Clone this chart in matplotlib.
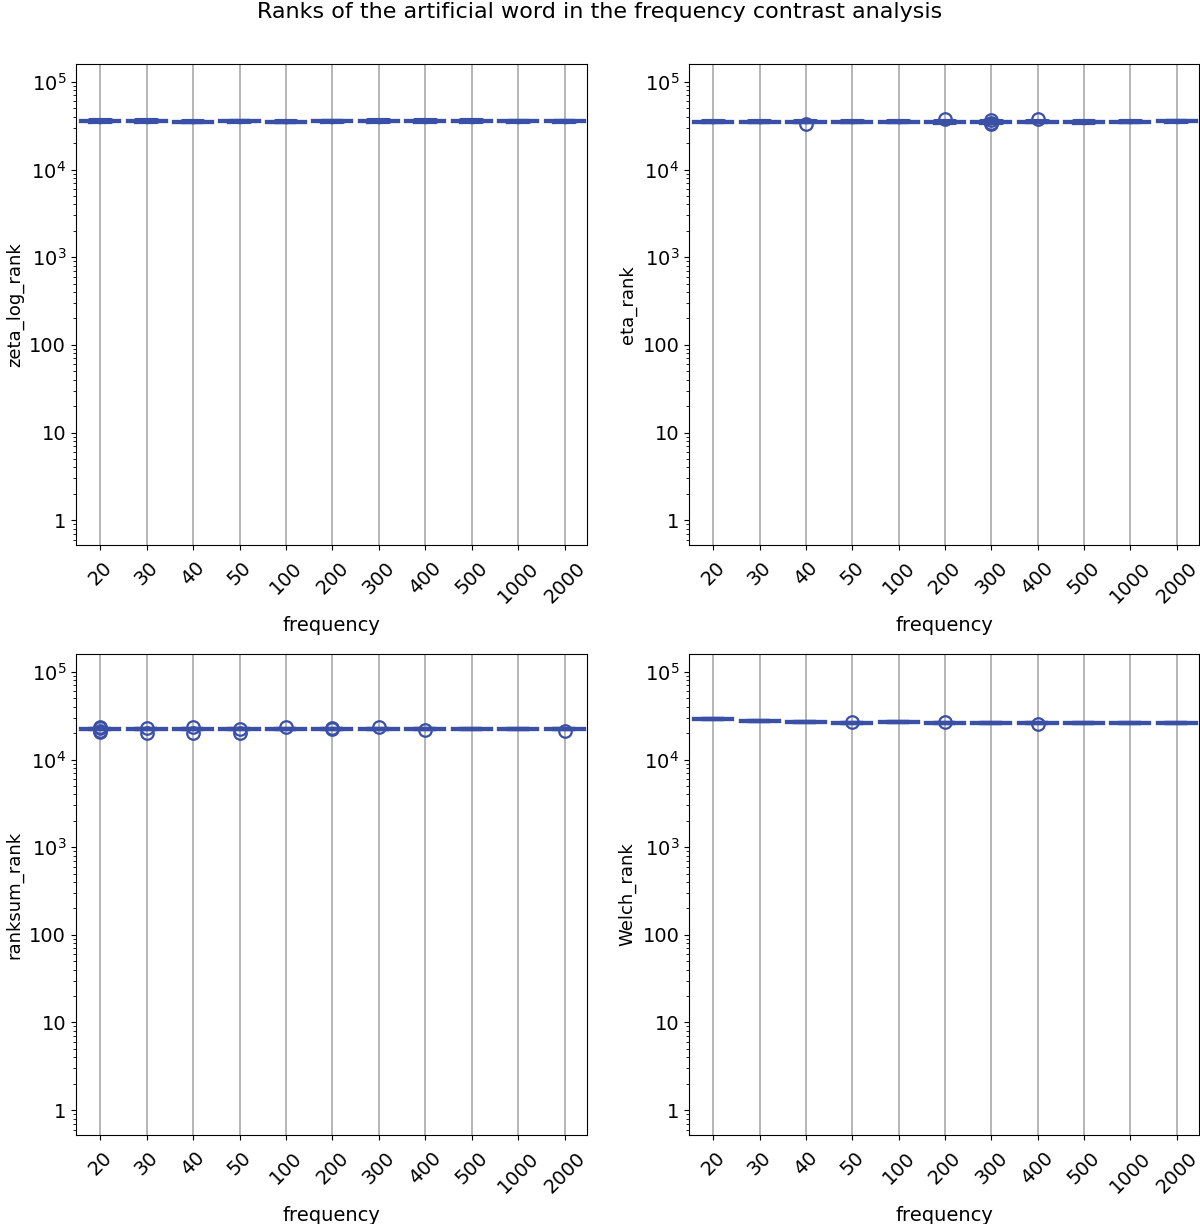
import numpy as np
import matplotlib
matplotlib.use('Agg')
import matplotlib.pyplot as plt

# frequency groups (x categories)
frequencies = ['20', '30', '40', '50', '100', '200', '300', '400', '500', '1000', '2000']

# medians of the rank of the artificial word
zeta_med = [35600, 35700, 35300, 35500, 35200, 35400, 35600, 35800, 35600, 35500, 35400]
eta_med = [35000, 35000, 35100, 35000, 35000, 34900, 34900, 35000, 34900, 35000, 35600]
ranksum_med = [22400, 22400, 22400, 22300, 22400, 22400, 22400, 22400, 22400, 22400, 22400]
welch_med = [28700, 27500, 26700, 26300, 26500, 26100, 26000, 26000, 26000, 26000, 26000]

# outliers per group
zeta_fliers = [[], [], [], [], [], [], [], [], [], [], []]
eta_fliers = [[], [], [33000], [], [], [37700], [33500, 34300, 36800], [37700], [], [], []]
ranksum_fliers = [[23600, 23000, 21200, 20600], [22900, 20200], [23800, 20200], [22500, 20200],
                  [23300], [23000, 22200], [23300], [21700], [], [], [21400]]
welch_fliers = [[], [], [], [26700], [], [26700], [], [25400], [], [], []]

# small spread of the box in the upper panels
zeta_spread = [0.02] * 11
eta_spread = [0.015] * 11
ranksum_spread = [0.0] * 11
welch_spread = [0.0] * 11

panels = [
    ('zeta_log_rank', zeta_med, zeta_spread, zeta_fliers),
    ('eta_rank', eta_med, eta_spread, eta_fliers),
    ('ranksum_rank', ranksum_med, ranksum_spread, ranksum_fliers),
    ('Welch_rank', welch_med, welch_spread, welch_fliers),
]

color = '#3a4fa6'
plt.rcParams['font.size'] = 14

fig = plt.figure(figsize=(12, 12.24), dpi=100)
fig.suptitle('Ranks of the artificial word in the frequency contrast analysis', fontsize=16, y=0.998)

rects = [
    [0.0633, 0.5547, 0.4259, 0.3930],
    [0.5742, 0.5547, 0.4250, 0.3930],
    [0.0633, 0.0727, 0.4259, 0.3930],
    [0.5742, 0.0727, 0.4250, 0.3930],
]

for rect, (label, med, spread, fliers) in zip(rects, panels):
    ax = fig.add_axes(rect)
    stats = []
    for m, s, f in zip(med, spread, fliers):
        stats.append({'med': m, 'q1': m * (1 - s), 'q3': m * (1 + s),
                      'whislo': m, 'whishi': m, 'fliers': f})
    ax.bxp(stats, positions=np.arange(1, len(med) + 1), widths=0.45,
           capwidths=0.82, manage_ticks=False,
           boxprops=dict(color=color, linewidth=3),
           whiskerprops=dict(color=color, linewidth=2.5),
           capprops=dict(color=color, linewidth=3),
           medianprops=dict(color=color, linewidth=3),
           flierprops=dict(marker='o', markerfacecolor='none', markeredgecolor=color,
                           markersize=9, markeredgewidth=1.6))
    ax.set_yscale('log')
    ax.set_ylim(0.52, 1.6e5)
    ax.set_yticks([1, 10, 100, 1e3, 1e4, 1e5])
    ax.set_yticklabels(['1', '10', '100', r'$10^3$', r'$10^4$', r'$10^5$'])
    ax.set_xlim(0.48, 11.48)
    ax.set_xticks(np.arange(1, len(frequencies) + 1))
    ax.set_xticklabels(frequencies, rotation=45)
    ax.tick_params(axis='x', pad=6)
    ax.grid(axis='x', color='#b0b0b0', linewidth=1.3)
    ax.set_axisbelow(True)
    ax.set_xlabel('frequency', fontsize=14, labelpad=7)
    ax.set_ylabel(label, fontsize=13)

fig.savefig('out.png', dpi=100)
